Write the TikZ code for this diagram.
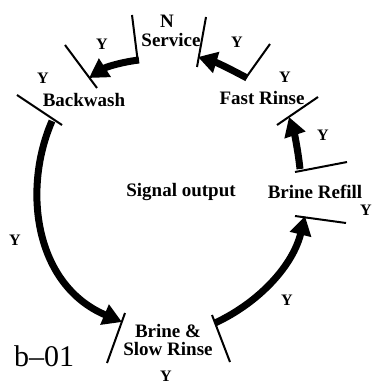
\documentclass[tikz,border=0pt]{standalone}
\usepackage{fontspec}
\setmainfont{Liberation Serif}
\usetikzlibrary{arrows.meta}
\tikzset{
  lbl/.style={inner sep=0pt, font=\fontsize{19}{21}\selectfont\bfseries},
  ylbl/.style={inner sep=0pt, font=\fontsize{16}{17}\selectfont\bfseries},
  tick/.style={line width=2pt},
  flow/.style={line width=7pt, -{Triangle[length=19pt,width=21pt]}},
}
\begin{document}
\begin{tikzpicture}[x=1pt,y=-1pt]
\useasboundingbox (0,0) rectangle (373,387);
% ticks
\coordinate (s1a) at (132,15); \coordinate (s1b) at (138,63);
\coordinate (s2a) at (206,17); \coordinate (s2b) at (197,67);
\coordinate (bw1a) at (65,45); \coordinate (bw1b) at (97,88);
\coordinate (bw2a) at (17,95); \coordinate (bw2b) at (62,125);
\coordinate (fr1a) at (270,44); \coordinate (fr1b) at (245,79);
\coordinate (fr2a) at (277,125); \coordinate (fr2b) at (318,97);
\coordinate (br1a) at (295,172); \coordinate (br1b) at (347,162);
\coordinate (br2a) at (295,216); \coordinate (br2b) at (346,223);
\coordinate (sr1a) at (125,313); \coordinate (sr1b) at (107,363);
\coordinate (sr2a) at (212,315); \coordinate (sr2b) at (230,362);
\foreach \t in {s1,s2,bw1,bw2,fr1,fr2,br1,br2,sr1,sr2}
  \draw[tick] (\t a) -- (\t b);
% arrow endpoints
\coordinate (a1s) at (139,60); \coordinate (a1e) at (89,78);
\coordinate (a2s) at (52,121); \coordinate (a2e) at (122,322);
\coordinate (a3s) at (215,323); \coordinate (a3e) at (305,216);
\coordinate (a4s) at (300,169); \coordinate (a4e) at (289,117);
\coordinate (a5s) at (247,78); \coordinate (a5e) at (198,57);
\draw[flow] (a1s) .. controls (122,62) and (106,67) .. (a1e);
\draw[flow] (a2s) .. controls (22,190) and (35,285) .. (a2e);
\draw[flow] (a3s) .. controls (260,302) and (293,265) .. (a3e);
\draw[flow] (a4s) .. controls (298,150) and (294,132) .. (a4e);
\draw[flow] (a5s) .. controls (232,70) and (218,63) .. (a5e);
% labels
\node[lbl] (n) at (167,21) {N};
\node[lbl] (service) at (171,40) {Service};
\node[lbl] (backwash) at (84,100) {Backwash};
\node[lbl] (fastrinse) at (262,98) {Fast Rinse};
\node[lbl] (signal) at (181,192) {Signal output};
\node[lbl] (brinerefill) at (315,192) {Brine Refill};
\node[lbl, align=center] (brineslow) at (168,340) {Brine \&\\[-3pt]Slow Rinse};
\node[ylbl] (y1) at (102,44) {Y};
\node[ylbl] (y2) at (43,78) {Y};
\node[ylbl] (y3) at (237,42) {Y};
\node[ylbl] (y4) at (285,77) {Y};
\node[ylbl] (y5) at (323,135) {Y};
\node[ylbl] (y6) at (366,210) {Y};
\node[ylbl] (y7) at (287,300) {Y};
\node[ylbl] (y8) at (166,376) {Y};
\node[ylbl] (y9) at (15,240) {Y};
\node[inner sep=0pt, font=\fontsize{30}{32}\selectfont] (b01) at (44,356) {b--01};
\end{tikzpicture}
\end{document}
